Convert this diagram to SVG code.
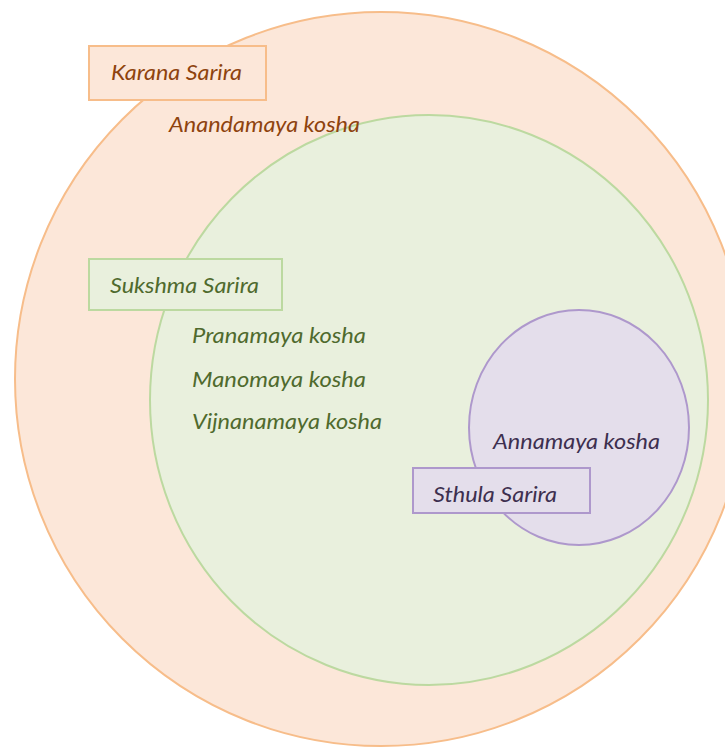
<svg xmlns="http://www.w3.org/2000/svg" width="725" height="747" viewBox="0 0 725 747">
<style>
.t{font-family:Lato,"Open Sans","Liberation Sans",sans-serif;font-style:italic;font-size:20.5px}
.o{fill:#FCE7D9;stroke:#F7BD8A;stroke-width:2}
.g{fill:#E9F0DD;stroke:#BCD9A0;stroke-width:2}
.p{fill:#E4DEEB;stroke:#AE98CC;stroke-width:2}
.to{fill:#8E430E}
.tg{fill:#4F6A2D}
.tp{fill:#3D2F4F}
</style>
<rect width="725" height="747" fill="#FFFFFF"/>
<g id="karana">
<ellipse class="o" cx="381" cy="379" rx="366" ry="367"/>
<rect class="o" x="89" y="46" width="177" height="54"/>
<text class="t to" x="111" y="80" textLength="131" lengthAdjust="spacingAndGlyphs">Karana Sarira</text>
</g>
<g id="sukshma">
<ellipse class="g" cx="429" cy="400" rx="279" ry="285"/>
<rect class="g" x="89" y="259" width="193" height="51"/>
<text class="t tg" x="110" y="293" textLength="149" lengthAdjust="spacingAndGlyphs">Sukshma Sarira</text>
<text class="t tg" x="192" y="343" textLength="174" lengthAdjust="spacingAndGlyphs">Pranamaya kosha</text>
<text class="t tg" x="192" y="387" textLength="174" lengthAdjust="spacingAndGlyphs">Manomaya kosha</text>
<text class="t tg" x="192" y="429" textLength="190" lengthAdjust="spacingAndGlyphs">Vijnanamaya kosha</text>
</g>
<g id="anandamaya">
<text class="t to" x="169" y="132" textLength="191" lengthAdjust="spacingAndGlyphs">Anandamaya kosha</text>
</g>
<g id="sthula">
<ellipse class="p" cx="579" cy="427.5" rx="110" ry="117.5"/>
<rect class="p" x="413" y="468" width="177" height="45"/>
<text class="t tp" x="493" y="449" textLength="167" lengthAdjust="spacingAndGlyphs">Annamaya kosha</text>
<text class="t tp" x="433" y="502" textLength="124" lengthAdjust="spacingAndGlyphs">Sthula Sarira</text>
</g>
<g id="connectors"></g>
</svg>
